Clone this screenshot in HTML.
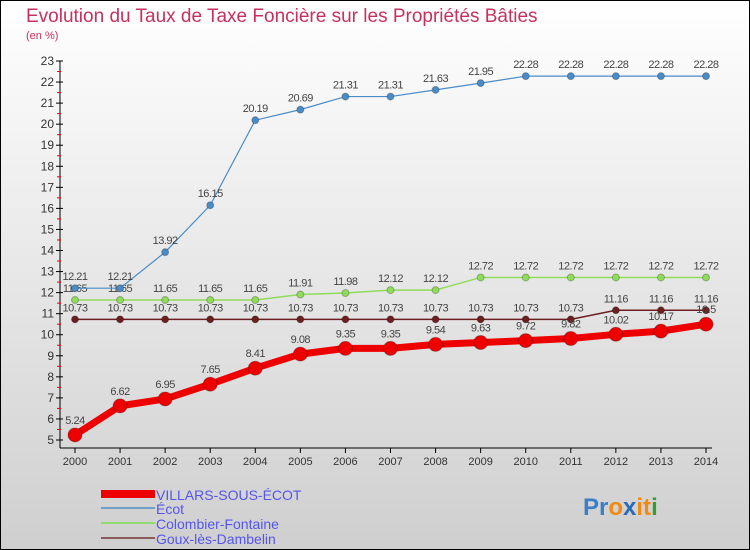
<!DOCTYPE html>
<html><head><meta charset="utf-8"><style>
body{margin:0}
svg{display:block;font-family:"Liberation Sans",sans-serif}
</style></head><body>
<svg id="c" width="750" height="550">
<defs><linearGradient id="bg" x1="0" y1="0" x2="0" y2="1"><stop offset="0" stop-color="#ffffff"/><stop offset="1" stop-color="#cfcfcf"/></linearGradient></defs>
<rect x="0.5" y="0.5" width="749" height="549" fill="url(#bg)" stroke="#000"/>
<text x="26" y="22" font-size="19" fill="#c8305e">Evolution du Taux de Taxe Foncière sur les Propriétés Bâties</text>
<text x="26" y="39" font-size="11" fill="#c8305e">(en %)</text>
<g id="plot"></g>
<g>
<rect x="101" y="490" width="54" height="8" fill="#e00"/>
<text x="156" y="500" font-size="14" fill="#5555ee">VILLARS-SOUS-ÉCOT</text>
<rect x="101" y="507" width="54" height="2" fill="#6fa0c8"/>
<text x="156" y="514" font-size="14" fill="#5555ee">Écot</text>
<rect x="101" y="522" width="54" height="2" fill="#90dc70"/>
<text x="156" y="529" font-size="14" fill="#5555ee">Colombier-Fontaine</text>
<rect x="101" y="537" width="54" height="2" fill="#8b5a5a"/>
<text x="156" y="544" font-size="14" fill="#5555ee">Goux-lès-Dambelin</text>
</g>
<text x="583" y="515" font-size="24" font-weight="bold"><tspan fill="#3a7fc8">Pr</tspan><tspan fill="#f08a10">o</tspan><tspan fill="#2a6ab8">x</tspan><tspan fill="#f08a10">it</tspan><tspan fill="#30a030">i</tspan></text>
</svg>
<script>
const years=[2000,2001,2002,2003,2004,2005,2006,2007,2008,2009,2010,2011,2012,2013,2014];
const yTicks=[5,6,7,8,9,10,11,12,13,14,15,16,17,18,19,20,21,22,23];
const villars=[5.24,6.62,6.95,7.65,8.41,9.08,9.35,9.35,9.54,9.63,9.72,9.82,10.02,10.17,10.5];
const ecot=[12.21,12.21,13.92,16.15,20.19,20.69,21.31,21.31,21.63,21.95,22.28,22.28,22.28,22.28,22.28];
const colombier=[11.65,11.65,11.65,11.65,11.65,11.91,11.98,12.12,12.12,12.72,12.72,12.72,12.72,12.72,12.72];
const goux=[10.73,10.73,10.73,10.73,10.73,10.73,10.73,10.73,10.73,10.73,10.73,10.73,11.16,11.16,11.16];
const NS="http://www.w3.org/2000/svg";
const g=document.getElementById('plot');
const X=i=>75+i*(706-75)/(years.length-1);
const Y=v=>440-(v-5)*(440-61)/18;
function mk(t,a){const e=document.createElementNS(NS,t);for(const k in a)e.setAttribute(k,a[k]);g.appendChild(e);return e;}
let ax=mk('line',{x1:60,y1:61,x2:60,y2:448,stroke:'#000'});


let xa=mk('line',{x1:60,y1:448,x2:712,y2:448,stroke:'#000'});


yTicks.forEach(v=>{
 mk('line',{x1:56,y1:Y(v),x2:63,y2:Y(v),stroke:'#000'});
 if(v<23)mk('line',{x1:57,y1:Y(v+0.5),x2:61,y2:Y(v+0.5),stroke:'#e00'});
 const t=mk('text',{x:54,y:Y(v)+4,'font-size':12,fill:'#333','text-anchor':'end'});t.textContent=v;
 
 
});
years.forEach((yr,i)=>{
 mk('line',{x1:X(i),y1:448,x2:X(i),y2:453,stroke:'#000'});
 const t=mk('text',{x:X(i),y:465,'font-size':11,fill:'#333','text-anchor':'middle'});t.textContent=yr;
 
 
});
function series(d,col,w,r,name,dy){
 const p=mk('polyline',{points:d.map((v,i)=>X(i)+','+Y(v)).join(' '),fill:'none',stroke:col,'stroke-width':w,'stroke-linejoin':'round'});
 
 
 d.forEach((v,i)=>{
  const c=mk('circle',{cx:X(i),cy:Y(v),r:r,fill:col,stroke:'rgba(0,0,0,0.25)'});
  
  
  const t=mk('text',{x:X(i),y:Y(v)-dy,'font-size':11,fill:'#444','text-anchor':'middle','letter-spacing':'-0.5'});t.textContent=String(v);
  
  
 });
}
series(goux,'#6b1f1f',1.5,3.5,'goux',8);
series(colombier,'#8fdc5a',1.5,3.5,'colombier',8);
series(ecot,'#4a8cc8',1.2,3.5,'ecot',8);
series(villars,'#ee0000',7,7,'villars',11);
</script>
</body></html>
